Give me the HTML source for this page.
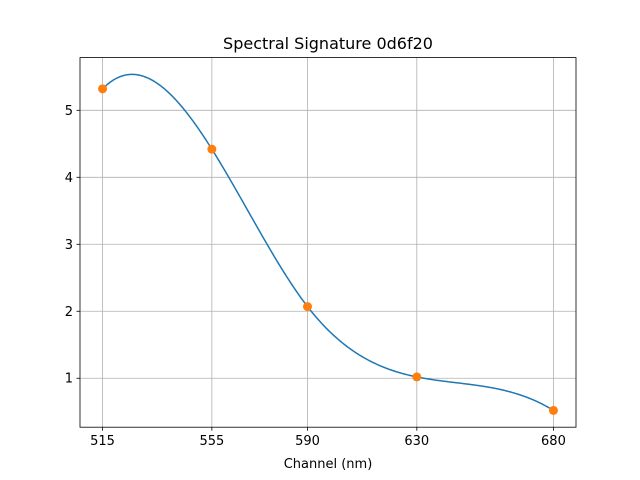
<!DOCTYPE html>
<html><head><meta charset="utf-8"><style>
body{margin:0;background:#fff}
svg{display:block;font-family:"DejaVu Sans","Liberation Sans",sans-serif}
</style></head><body>
<svg id="chart" width="640" height="480">
<rect x="0" y="0" width="640" height="480" fill="#fff"/>
<g id="grid"></g>
<g id="ticks"></g>
<path id="curve" fill="none" stroke="#1f77b4" stroke-width="1.5"/>
<g id="pts"></g>
<rect x="80" y="57.6" width="496" height="369.6" fill="none" stroke="#000" stroke-width="0.8"/>
<text x="328" y="49" text-anchor="middle" font-size="16">Spectral Signature 0d6f20</text>
<text x="328" y="468" text-anchor="middle" font-size="13">Channel (nm)</text>
</svg>
<script>
const channels=[515,555,590,630,680];
const values=[5.32,4.42,2.07,1.02,0.52];
const yTicks=[1,2,3,4,5];
const NS="http://www.w3.org/2000/svg";
const L=80,R=576,T=57.6,B=427.2;
// spline (not-a-knot)
const n=channels.length,h=[],d=[];
for(let i=0;i<n-1;i++){h.push(channels[i+1]-channels[i]);d.push((values[i+1]-values[i])/h[i]);}
const A=[],b=[];
for(let i=0;i<n;i++){A.push(new Array(n).fill(0));b.push(0);}
A[0][0]=-1/h[0];A[0][1]=1/h[0]+1/h[1];A[0][2]=-1/h[1];
for(let i=1;i<n-1;i++){A[i][i-1]=h[i-1];A[i][i]=2*(h[i-1]+h[i]);A[i][i+1]=h[i];b[i]=6*(d[i]-d[i-1]);}
A[n-1][n-3]=-1/h[n-3];A[n-1][n-2]=1/h[n-3]+1/h[n-2];A[n-1][n-1]=-1/h[n-2];
for(let c=0;c<n;c++){let p=c;for(let r=c+1;r<n;r++)if(Math.abs(A[r][c])>Math.abs(A[p][c]))p=r;
[A[c],A[p]]=[A[p],A[c]];[b[c],b[p]]=[b[p],b[c]];
for(let r=0;r<n;r++){if(r===c)continue;const f=A[r][c]/A[c][c];for(let k=c;k<n;k++)A[r][k]-=f*A[c][k];b[r]-=f*b[c];}}
const M=b.map((v,i)=>v/A[i][i]);
function S(x){let i=0;while(i<n-2&&x>channels[i+1])i++;const x0=channels[i],x1=channels[i+1],hh=h[i];
const a=(x1-x)/hh,c=(x-x0)/hh;
return a*values[i]+c*values[i+1]+((a*a*a-a)*M[i]+(c*c*c-c)*M[i+1])*hh*hh/6;}
const samples=[];const x0=channels[0],x1=channels[n-1];
for(let k=0;k<=400;k++){const x=x0+(x1-x0)*k/400;samples.push([x,S(x)]);}
let ymin=Math.min(...samples.map(s=>s[1]),...values),ymax=Math.max(...samples.map(s=>s[1]),...values);
const ym=(ymax-ymin)*0.05;ymin-=ym;ymax+=ym;
const xm=(x1-x0)*0.05;const xmin=x0-xm,xmax=x1+xm;
const sx=x=>L+(x-xmin)/(xmax-xmin)*(R-L);
const sy=y=>B-(y-ymin)/(ymax-ymin)*(B-T);
const grid=document.getElementById('grid'),ticks=document.getElementById('ticks');
function mk(tag,attrs,parent){const e=document.createElementNS(NS,tag);for(const k in attrs)e.setAttribute(k,attrs[k]);parent.appendChild(e);return e;}
channels.forEach(c=>{const x=sx(c);
const g=mk('line',{x1:x,x2:x,y1:T,y2:B,stroke:'#b0b0b0','stroke-width':0.8},grid);


const t=mk('line',{x1:x,x2:x,y1:B,y2:B+3.5,stroke:'#000','stroke-width':0.8},ticks);


const lb=mk('text',{x:x,y:B+18,'text-anchor':'middle','font-size':13},ticks);lb.textContent=c;

});
yTicks.forEach(v=>{const y=sy(v);
const g=mk('line',{x1:L,x2:R,y1:y,y2:y,stroke:'#b0b0b0','stroke-width':0.8},grid);


const t=mk('line',{x1:L-3.5,x2:L,y1:y,y2:y,stroke:'#000','stroke-width':0.8},ticks);


const lb=mk('text',{x:L-7,y:y+4.5,'text-anchor':'end','font-size':13},ticks);lb.textContent=v;

});
document.getElementById('curve').setAttribute('d',samples.map((s,i)=>(i?'L':'M')+sx(s[0]).toFixed(2)+','+sy(s[1]).toFixed(2)).join(''));
const pts=document.getElementById('pts');
channels.forEach((c,i)=>{const p=mk('circle',{cx:sx(c),cy:sy(values[i]),r:4.5,fill:'#ff7f0e'},pts);

});
</script>
</body></html>
